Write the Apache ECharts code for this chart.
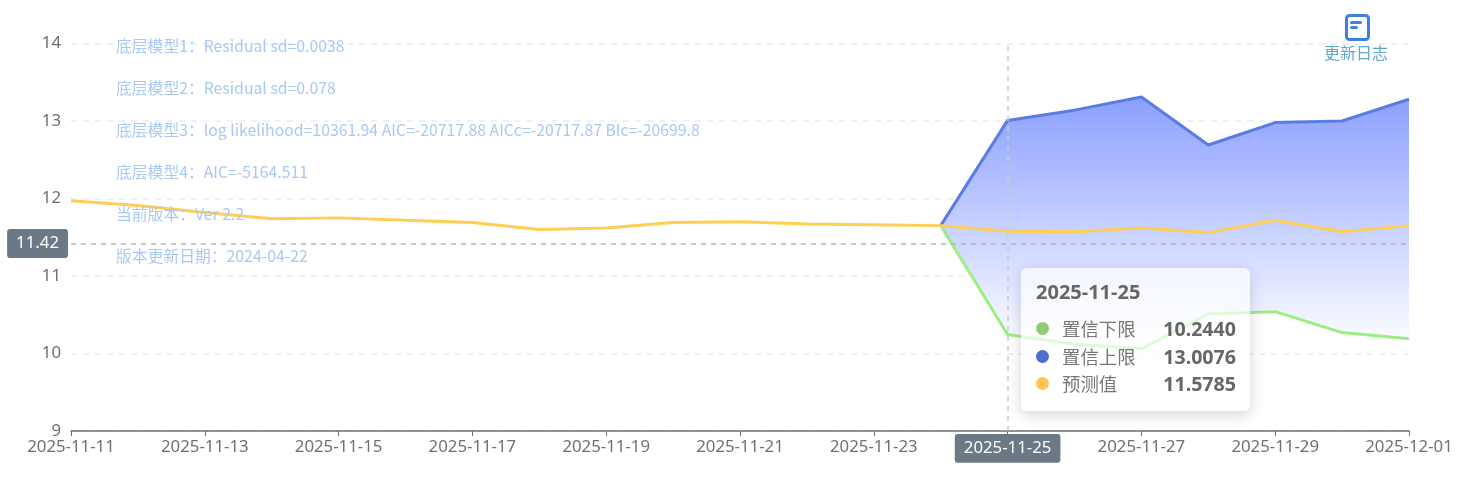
<!DOCTYPE html>
<html><head><meta charset="utf-8">
<style>html,body{margin:0;padding:0;background:#fff}#c{width:1470px;height:481px}</style>
<script src="https://cdn.jsdelivr.net/npm/echarts@6/dist/echarts.min.js"></script>
</head><body><div id="c"></div>
<script>
const categories = ['2025-11-11','2025-11-12','2025-11-13','2025-11-14','2025-11-15','2025-11-16','2025-11-17','2025-11-18','2025-11-19','2025-11-20','2025-11-21','2025-11-22','2025-11-23','2025-11-24','2025-11-25','2025-11-26','2025-11-27','2025-11-28','2025-11-29','2025-11-30','2025-12-01'];
const forecast = [11.97,11.91,11.82,11.74,11.75,11.72,11.69,11.60,11.62,11.69,11.70,11.67,11.66,11.65,11.5785,11.57,11.62,11.56,11.72,11.57,11.65];
const lower = [null,null,null,null,null,null,null,null,null,null,null,null,null,11.65,10.2440,10.12,10.06,10.51,10.54,10.27,10.19];
const upper = [null,null,null,null,null,null,null,null,null,null,null,null,null,11.65,13.0076,13.14,13.31,12.69,12.98,13.00,13.28];
const notes = ['底层模型1：Residual sd=0.0038','底层模型2：Residual sd=0.078','底层模型3：log likelihood=10361.94 AIC=-20717.88 AICc=-20717.87 BIc=-20699.8','底层模型4：AIC=-5164.511','当前版本：Ver 2.2','版本更新日期：2024-04-22'];
const names = ['置信下限','置信上限','预测值'];
const colors = ['#91cc75','#4e6fc9','#ffc650'];
const font = '"Noto Sans","Noto Sans CJK SC",sans-serif';
const cjkFont = '"Noto Sans CJK SC","Noto Sans",sans-serif';
const band = upper.map((u,i)=> u==null ? null : +(u-lower[i]).toFixed(4));
const chart = echarts.init(document.getElementById('c'));
chart.setOption({
  animation:false,
  textStyle:{fontFamily:font},
  title:{text:notes.join('\n'),left:116,top:25,padding:0,z:10,
    textStyle:{fontSize:15.8,fontWeight:'normal',color:'#a9c9f4',lineHeight:42,fontFamily:cjkFont}},
  grid:{left:71,right:61,top:43.5,bottom:50,containLabel:false},
  tooltip:{trigger:'axis',alwaysShowContent:true,transitionDuration:0,
    backgroundColor:'rgba(255,255,255,0.68)',borderWidth:0,padding:0,
    extraCssText:'border-radius:6px;box-shadow:0 4px 14px rgba(60,70,90,0.22);',
    position:()=>[1021,268],
    axisPointer:{type:'cross',
      lineStyle:{color:'#c8ccd8',type:[5,5],width:1.5},
      crossStyle:{color:'#b5b5b5',type:[5,5],width:1.5},
      label:{backgroundColor:'#6a7985',fontSize:16.8,color:'#fff',fontFamily:font,padding:[6,9,6,9],
        formatter:p=>p.axisDimension==='y'?p.value.toFixed(2):p.value}},
    formatter:ps=>{
      const i=ps[0].dataIndex, vals=[lower[i],upper[i],forecast[i]];
      const row=(k)=>`<div style="display:flex;align-items:center;height:27.5px;font-size:18.4px;color:#777">
        <span style="width:13px;height:13px;border-radius:50%;background:${colors[k]};margin-right:13px"></span>
        <span style="flex:1">${names[k]}</span><b style="font-size:19.6px;color:#666">${vals[k].toFixed(4)}</b></div>`;
      return `<div style="width:200px;height:143px;box-sizing:content-box;padding:0 14px 0 15px;font-family:${font}">
        <div style="font-size:20px;font-weight:700;color:#666;padding-top:10px;height:36px;line-height:28px;margin-bottom:1px">${categories[i]}</div>
        ${row(0)}${row(1)}${row(2)}</div>`;
    }},
  xAxis:{type:'category',boundaryGap:false,data:categories,
    axisLine:{lineStyle:{color:'#6E7079',width:1.5}},
    axisTick:{alignWithLabel:true,interval:1,lineStyle:{color:'#6E7079'}},
    axisLabel:{interval:1,color:'#6E7079',fontSize:16.8,fontFamily:font,showMinLabel:true,showMaxLabel:true,hideOverlap:false},
    splitLine:{show:false}},
  yAxis:{type:'value',min:9,max:14,interval:1,
    axisLine:{show:false},axisTick:{show:false},
    axisLabel:{color:'#6E7079',fontSize:16.8,fontFamily:font,margin:10,padding:[0,0,4,0]},
    splitLine:{lineStyle:{type:[6,6],color:'#e6ebf5',width:1.5}}},
  series:[
    {name:names[0],type:'line',stack:'conf',data:lower,symbol:'none',
     lineStyle:{color:'#8fd977',width:3},itemStyle:{color:colors[0]},z:2},
    {name:names[1],type:'line',stack:'conf',data:band,symbol:'none',
     lineStyle:{color:'#5271d0',width:3},itemStyle:{color:colors[1]},z:2,
     areaStyle:{opacity:1,color:new echarts.graphic.LinearGradient(0,0,0,1,[{offset:0,color:'#7f92fa'},{offset:1,color:'rgba(255,255,255,1)'}])}},
    {name:names[2],type:'line',data:forecast,symbol:'none',
     lineStyle:{color:'#f9bd4e',width:3},itemStyle:{color:colors[2]},z:3}
  ],
  graphic:[
    {type:'rect',left:1345,top:14,shape:{width:22,height:24,r:3},style:{fill:'#fff',stroke:'#3f80e6',lineWidth:3},z:20},
    {type:'rect',left:1350,top:21,shape:{width:12,height:3,r:1.5},style:{fill:'#3f80e6'},z:21},
    {type:'rect',left:1350,top:26,shape:{width:8,height:3,r:1.5},style:{fill:'#3f80e6'},z:21},
    {type:'text',left:1324,top:46,style:{text:'更新日志',fontSize:16,fill:'#5fa8c8',fontFamily:font},z:20}
  ]
});
chart.dispatchAction({type:'showTip',x:1007.2,y:243.5});
</script></body></html>
